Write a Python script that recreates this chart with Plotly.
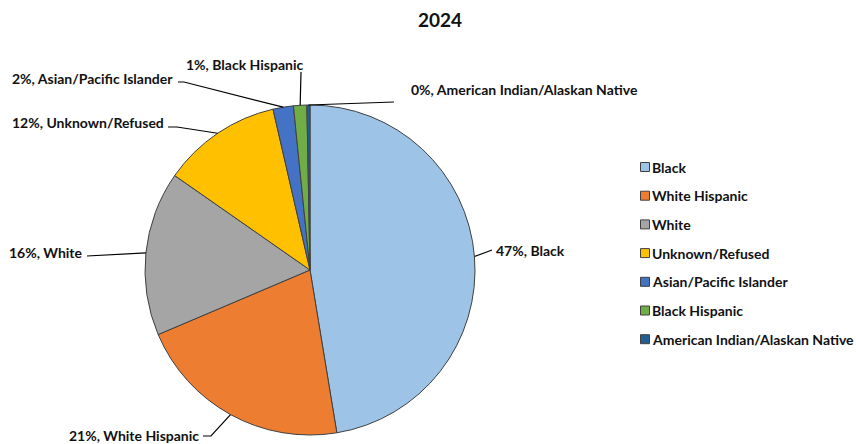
import math
import plotly.graph_objects as go

# Share of total by race/ethnicity, 2024
categories = ["Black", "White Hispanic", "White", "Unknown/Refused",
              "Asian/Pacific Islander", "Black Hispanic",
              "American Indian/Alaskan Native"]
shares = [47.4, 21.2, 16.1, 11.7, 2.0, 1.3, 0.3]
colors = ["#9DC3E6", "#ED7D31", "#A5A5A5", "#FFC000",
          "#4472C4", "#70AD47", "#255E91"]

W, H = 856, 444
FONT = "Lato, 'Open Sans', sans-serif"
TXT = "#111111"

# pie placement in pixels
CX, CY, R = 310, 270, 165


def px(x):
    return x / W


def py(y):
    return 1 - y / H


fig = go.Figure(go.Pie(
    labels=categories,
    values=shares,
    sort=False,
    direction="clockwise",
    rotation=0,
    marker=dict(colors=colors, line=dict(color="#404040", width=1)),
    textinfo="none",
    hoverinfo="label+percent",
    showlegend=False,
    domain=dict(x=[px(CX - R), px(CX + R)], y=[py(CY + R), py(CY - R)]),
))

# label placement: (leader path points after the slice edge, text x, text y, anchor)
label_layout = [
    ([(492, 250)], 494, 250, "left"),
    ([(211, 436), (203, 436)], 201, 435, "right"),
    ([(87, 256)], 85, 252, "right"),
    ([(177, 127), (168, 127)], 166, 123, "right"),
    ([(184, 82), (178, 82)], 175, 79, "right"),
    ([(301, 72)], 305, 65, "right"),
    ([(394, 102)], 409, 89, "left"),
]

total = sum(shares)
shapes = []
annotations = []
cum = 0.0
for name, val, (pts, tx, ty, anchor) in zip(categories, shares, label_layout):
    mid = (cum + val / 2) / total * 2 * math.pi
    cum += val
    ex = CX + R * math.sin(mid)
    ey = CY - R * math.cos(mid)
    path_pts = [(ex, ey)] + pts
    d = "M " + " L ".join(f"{px(x)},{py(y)}" for x, y in path_pts)
    shapes.append(dict(type="path", path=d, xref="paper", yref="paper",
                       line=dict(color="black", width=1.2)))
    pct = round(val / total * 100)
    annotations.append(dict(
        x=px(tx), y=py(ty), xref="paper", yref="paper",
        text=f"<b>{pct}%, {name}</b>", showarrow=False,
        xanchor=anchor, yanchor="middle",
        font=dict(family=FONT, size=14, color=TXT),
    ))

# legend entries
LEG_X, LEG_Y0, LEG_DY = 645, 167, 28.7
for i, (name, col) in enumerate(zip(categories, colors)):
    y = LEG_Y0 + i * LEG_DY
    shapes.append(dict(type="rect", xref="paper", yref="paper",
                       x0=px(LEG_X - 4.5), x1=px(LEG_X + 4.5),
                       y0=py(y + 4.5), y1=py(y - 4.5),
                       fillcolor=col, line=dict(color="#404040", width=1)))
    annotations.append(dict(
        x=px(650), y=py(y), xref="paper", yref="paper",
        text=f"<b>{name}</b>", showarrow=False,
        xanchor="left", yanchor="middle",
        font=dict(family=FONT, size=14, color=TXT),
    ))

fig.update_layout(
    width=W, height=H,
    margin=dict(l=0, r=0, t=0, b=0, pad=0),
    paper_bgcolor="white",
    plot_bgcolor="white",
    title=dict(text="<b>2024</b>", x=440 / W, xanchor="center",
               y=1 - 20 / H, yanchor="middle",
               font=dict(family=FONT, size=19, color=TXT)),
    shapes=shapes,
    annotations=annotations,
)

fig.write_html("out.html")
